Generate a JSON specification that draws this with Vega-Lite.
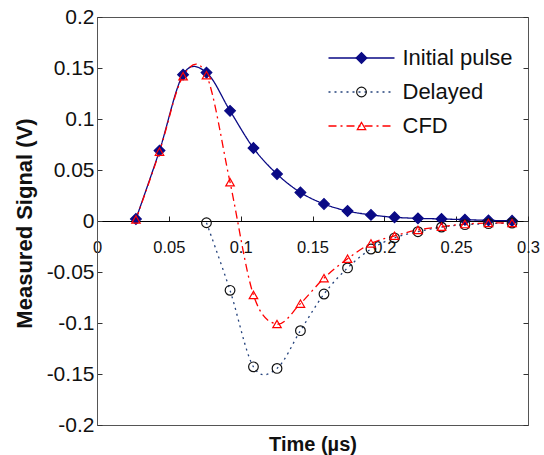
{
  "$schema": "https://vega.github.io/schema/vega-lite/v6.json",
  "width": 431,
  "height": 408,
  "autosize": "none",
  "padding": {"left": 97, "top": 17, "right": 16, "bottom": 30},
  "background": "white",
  "config": {
    "font": "Liberation Sans",
    "view": {"stroke": "#555555", "strokeWidth": 1},
    "axis": {"grid": false}
  },
  "data": {
    "values": [
      {"t": 0.0271, "v": 0.002, "series": "Initial pulse"},
      {"t": 0.0435, "v": 0.069, "series": "Initial pulse"},
      {"t": 0.0599, "v": 0.1435, "series": "Initial pulse"},
      {"t": 0.0762, "v": 0.1455, "series": "Initial pulse"},
      {"t": 0.0926, "v": 0.108, "series": "Initial pulse"},
      {"t": 0.1089, "v": 0.0715, "series": "Initial pulse"},
      {"t": 0.1253, "v": 0.046, "series": "Initial pulse"},
      {"t": 0.1416, "v": 0.028, "series": "Initial pulse"},
      {"t": 0.158, "v": 0.0167, "series": "Initial pulse"},
      {"t": 0.1744, "v": 0.0098, "series": "Initial pulse"},
      {"t": 0.1907, "v": 0.006, "series": "Initial pulse"},
      {"t": 0.2071, "v": 0.0036, "series": "Initial pulse"},
      {"t": 0.2234, "v": 0.0026, "series": "Initial pulse"},
      {"t": 0.2398, "v": 0.002, "series": "Initial pulse"},
      {"t": 0.2561, "v": 0.0013, "series": "Initial pulse"},
      {"t": 0.2725, "v": 0.0006, "series": "Initial pulse"},
      {"t": 0.2889, "v": 0.0002, "series": "Initial pulse"},
      {"t": 0.0762, "v": -0.0017, "series": "Delayed"},
      {"t": 0.0926, "v": -0.068, "series": "Delayed"},
      {"t": 0.1089, "v": -0.143, "series": "Delayed"},
      {"t": 0.1253, "v": -0.1445, "series": "Delayed"},
      {"t": 0.1416, "v": -0.1075, "series": "Delayed"},
      {"t": 0.158, "v": -0.0716, "series": "Delayed"},
      {"t": 0.1744, "v": -0.046, "series": "Delayed"},
      {"t": 0.1907, "v": -0.0275, "series": "Delayed"},
      {"t": 0.2071, "v": -0.0165, "series": "Delayed"},
      {"t": 0.2234, "v": -0.0105, "series": "Delayed"},
      {"t": 0.2398, "v": -0.006, "series": "Delayed"},
      {"t": 0.2561, "v": -0.0036, "series": "Delayed"},
      {"t": 0.2725, "v": -0.0026, "series": "Delayed"},
      {"t": 0.2889, "v": -0.002, "series": "Delayed"},
      {"t": 0.0271, "v": 0.0015, "series": "CFD"},
      {"t": 0.0435, "v": 0.068, "series": "CFD"},
      {"t": 0.0599, "v": 0.142, "series": "CFD"},
      {"t": 0.0762, "v": 0.143, "series": "CFD"},
      {"t": 0.0926, "v": 0.038, "series": "CFD"},
      {"t": 0.1089, "v": -0.0725, "series": "CFD"},
      {"t": 0.1253, "v": -0.101, "series": "CFD"},
      {"t": 0.1416, "v": -0.081, "series": "CFD"},
      {"t": 0.158, "v": -0.056, "series": "CFD"},
      {"t": 0.1744, "v": -0.037, "series": "CFD"},
      {"t": 0.1907, "v": -0.022, "series": "CFD"},
      {"t": 0.2071, "v": -0.0145, "series": "CFD"},
      {"t": 0.2234, "v": -0.0088, "series": "CFD"},
      {"t": 0.2398, "v": -0.0056, "series": "CFD"},
      {"t": 0.2561, "v": -0.003, "series": "CFD"},
      {"t": 0.2725, "v": -0.002, "series": "CFD"},
      {"t": 0.2889, "v": -0.002, "series": "CFD"}
    ]
  },
  "layer": [
    {
      "mark": {"type": "line", "interpolate": "cardinal", "strokeWidth": 1.3},
      "encoding": {
        "x": {
          "field": "t", "type": "quantitative",
          "scale": {"domain": [0, 0.3], "nice": false, "zero": false},
          "axis": {
            "orient": "bottom", "offset": -204,
            "values": [0, 0.05, 0.1, 0.15, 0.2, 0.25, 0.3],
            "format": "~g",
            "tickSize": -5, "tickColor": "#222222", "domainColor": "#000000",
            "labelFontSize": 16.5, "labelColor": "#111111", "labelPadding": 23,
            "labelFlush": false, "labelOverlap": false,
            "title": "Time (µs)", "titleFontSize": 20, "titleFontWeight": "bold", "titleColor": "#111111",
            "titleX": 215.5, "titleY": 229, "titleBaseline": "alphabetic", "titleAlign": "center"
          }
        },
        "y": {
          "field": "v", "type": "quantitative",
          "scale": {"domain": [-0.2, 0.2], "nice": false, "zero": false},
          "axis": {
            "orient": "left",
            "values": [-0.2, -0.15, -0.1, -0.05, 0, 0.05, 0.1, 0.15, 0.2],
            "format": "~g",
            "labelExpr": "replace(datum.label, '\u2212', '-')",
            "tickSize": -5, "tickColor": "#333333", "domainColor": "#555555",
            "labelFontSize": 21, "labelColor": "#111111", "labelPadding": 8,
            "labelFlush": false, "labelOverlap": false,
            "title": "Measured Signal (V)", "titleFontSize": 22, "titleFontWeight": "bold", "titleColor": "#111111",
            "titleX": -66, "titleY": 206, "titleAngle": 270, "titleBaseline": "alphabetic", "titleAlign": "center"
          }
        },
        "color": {
          "field": "series", "type": "nominal",
          "scale": {"domain": ["Initial pulse", "Delayed", "CFD"], "range": ["#0a0a85", "#24427c", "#ff0000"]},
          "legend": {
            "orient": "none", "legendX": 253.5, "legendY": 30, "title": null, "padding": 0,
            "symbolType": "M-6,0H6", "symbolSize": 121, "symbolStrokeWidth": 1.3,
            "labelFontSize": 22, "labelOffset": 30, "labelColor": "#111111", "rowPadding": 12
          }
        },
        "strokeDash": {
          "field": "series", "type": "nominal",
          "scale": {"domain": ["Initial pulse", "Delayed", "CFD"], "range": [[1, 0], [2, 4], [8, 4, 2, 4]]},
          "legend": {
            "orient": "none", "legendX": 253.5, "legendY": 30, "title": null, "padding": 0,
            "symbolType": "M-6,0H6", "symbolSize": 121, "symbolStrokeWidth": 1.3,
            "labelFontSize": 22, "labelOffset": 30, "labelColor": "#111111", "rowPadding": 12
          }
        }
      }
    },
    {
      "mark": {"type": "point", "strokeWidth": 1.2, "opacity": 1},
      "encoding": {
        "x": {"field": "t", "type": "quantitative", "axis": null},
        "y": {
          "field": "v", "type": "quantitative",
          "axis": {
            "orient": "right",
            "values": [-0.2, -0.15, -0.1, -0.05, 0, 0.05, 0.1, 0.15, 0.2],
            "tickSize": -5, "tickColor": "#333333", "domain": false,
            "labels": false, "title": null
          }
        },
        "shape": {
          "field": "series", "type": "nominal",
          "scale": {"domain": ["Initial pulse", "Delayed", "CFD"], "range": ["diamond", "circle", "triangle-up"]},
          "legend": {
            "orient": "none", "legendX": 253.5, "legendY": 30, "title": null, "padding": 0,
            "labelFontSize": 22, "labelExpr": "''", "rowPadding": 12, "symbolStrokeWidth": 1.2
          }
        },
        "fill": {
          "field": "series", "type": "nominal",
          "scale": {"domain": ["Initial pulse", "Delayed", "CFD"], "range": ["#0a0a85", "transparent", "transparent"]},
          "legend": {
            "orient": "none", "legendX": 253.5, "legendY": 30, "title": null, "padding": 0,
            "labelFontSize": 22, "labelExpr": "''", "rowPadding": 12, "symbolStrokeWidth": 1.2
          }
        },
        "stroke": {
          "field": "series", "type": "nominal",
          "scale": {"domain": ["Initial pulse", "Delayed", "CFD"], "range": ["#0a0a85", "#111111", "#ff0000"]},
          "legend": {
            "orient": "none", "legendX": 253.5, "legendY": 30, "title": null, "padding": 0,
            "labelFontSize": 22, "labelExpr": "''", "rowPadding": 12, "symbolStrokeWidth": 1.2
          }
        },
        "size": {
          "field": "series", "type": "nominal",
          "scale": {"domain": ["Initial pulse", "Delayed", "CFD"], "range": [115, 72, 150]},
          "legend": {
            "orient": "none", "legendX": 253.5, "legendY": 30, "title": null, "padding": 0,
            "labelFontSize": 22, "labelExpr": "''", "rowPadding": 12, "symbolStrokeWidth": 1.2
          }
        }
      }
    }
  ],
  "resolve": {
    "axis": {"x": "independent", "y": "independent"},
    "legend": {"color": "independent", "strokeDash": "independent", "shape": "independent", "fill": "independent", "stroke": "independent", "size": "independent"}
  }
}
